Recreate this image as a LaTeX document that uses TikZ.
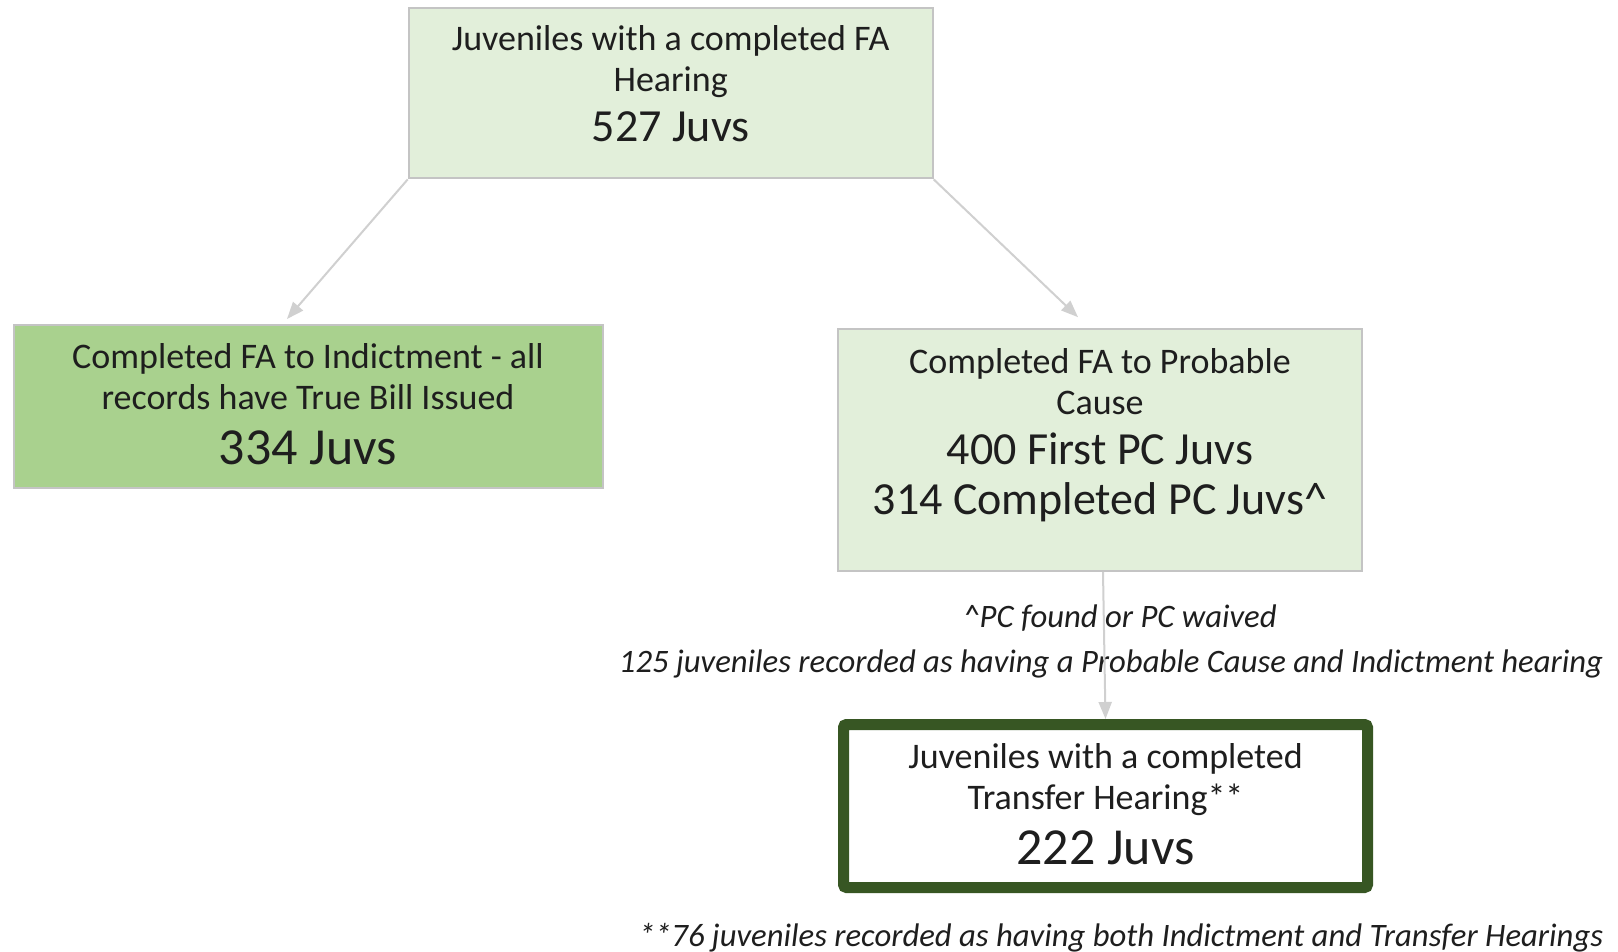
\documentclass[tikz,border=0pt]{standalone}
\usepackage{fontspec}
\setmainfont{Carlito}
\usetikzlibrary{arrows.meta,calc}
\definecolor{lightfill}{HTML}{E2EFDA}
\definecolor{midfill}{HTML}{A9D18E}
\definecolor{boxline}{HTML}{C4C4C4}
\definecolor{darkgreen}{HTML}{375623}
\definecolor{arrowgray}{HTML}{D0D0D0}
\definecolor{txt}{HTML}{1E1E1E}
\newcommand\numA[1]{{\fontsize{46}{41}\selectfont #1}}
\newcommand\numB[1]{{\fontsize{52}{41}\selectfont #1}}
\begin{document}
\begin{tikzpicture}[x=1pt,y=-1pt,
  box/.style={draw=boxline, line width=2pt, inner sep=0pt},
  thbox/.style={draw=darkgreen, line width=11pt, fill=white, rounded corners=3pt, inner sep=0pt},
  boxtext/.style={align=center, text=txt, font=\fontsize{36}{41}\selectfont, inner sep=0pt},
  note/.style={text=txt, font=\fontsize{32.7}{36}\selectfont\itshape, inner sep=0pt},
  conn/.style={draw=arrowgray, line width=2pt,
    -{Triangle[length=17pt,width=13pt]}, arrowgray}]
\useasboundingbox (0,0) rectangle (1618,952);
\fill[white] (0,0) rectangle (1618,952);

\node[box, fill=lightfill, minimum width=524pt, minimum height=170pt] (top) at (670.7,93.4) {};
\node[boxtext] (topT) at ([yshift=9.5pt]top.center)
  {Juveniles with a completed FA\\Hearing\\[9pt]\numA{527 Juvs}};

\node[box, fill=midfill, minimum width=589pt, minimum height=163pt] (ind) at (308,406.5) {};
\node[boxtext] (indT) at ([yshift=2pt]ind.center)
  {Completed FA to Indictment - all\\records have True Bill Issued\\[14pt]\numB{334 Juvs}};

\node[box, fill=lightfill, minimum width=524pt, minimum height=241.6pt] (pc) at (1100,450) {};
\node[boxtext] (pcT) at ([yshift=14.5pt]pc.center)
  {Completed FA to Probable\\Cause\\[9pt]\numA{400 First PC Juvs}\\[9pt]\numA{314 Completed PC Juvs\textasciicircum}};

\node[thbox, minimum width=524pt, minimum height=163pt] (th) at (1105.5,806) {};
\node[boxtext] (thT) at ([yshift=2pt]th.center)
  {Juveniles with a completed\\Transfer Hearing**\\[14pt]\numB{222 Juvs}};

\node[note, anchor=base] (n1) at (1120,627) {\textasciicircum PC found or PC waived};
\node[note, anchor=base] (n2) at (1111,672) {125 juveniles recorded as having a Probable Cause and Indictment hearing};
\node[note, anchor=base] (n3) at (1121,946) {**76 juveniles recorded as having both Indictment and Transfer Hearings};

\draw[conn] (top.south west) -- ([xshift=-21pt,yshift=5pt]ind.north);
\draw[conn] (top.south east) -- ([xshift=-22pt,yshift=11pt]pc.north);
\draw[conn] ([xshift=3pt]pc.south) -- (th.north);
\end{tikzpicture}
\end{document}
